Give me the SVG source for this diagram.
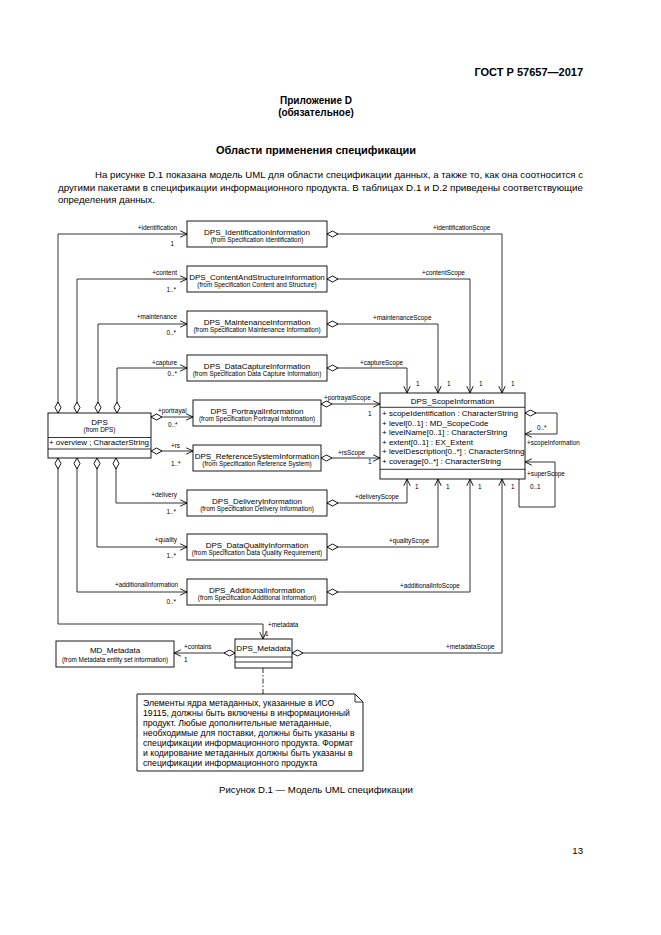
<svg xmlns="http://www.w3.org/2000/svg" width="661" height="935" viewBox="0 0 661 935">
<style>
text{font-family:"Liberation Sans",Arial,sans-serif;fill:#000}
.hd{font-weight:bold}
.p{font-size:9.6px}
.t{font-size:8px;text-anchor:middle}
.s{font-size:6.4px;text-anchor:middle}
.l{font-size:6.4px}
.r{text-anchor:end}
.a{font-size:8px}
.n{font-size:8.7px}
.box{fill:#fff;stroke:#000;stroke-width:0.9}
.ln{fill:none;stroke:#000;stroke-width:0.8}
.cd{marker-start:url(#dia);marker-end:url(#arr)}
</style>
<defs>
<marker id="arr" viewBox="0 0 10 10" refX="9.5" refY="5" markerWidth="8" markerHeight="8" markerUnits="userSpaceOnUse" orient="auto"><path d="M1,1 L9.5,5 L1,9" fill="none" stroke="#000" stroke-width="1.1"/></marker>
<marker id="dia" viewBox="0 0 12 8" refX="0.5" refY="4" markerWidth="12" markerHeight="8" markerUnits="userSpaceOnUse" orient="auto"><path d="M0.5,4 L6,1 L11.5,4 L6,7 Z" fill="#fff" stroke="#000" stroke-width="0.9"/></marker>
</defs>
<rect width="661" height="935" fill="#fff"/>

<g id="page-text">
<text x="583" y="76" class="hd r" font-size="11">ГОСТ Р 57657—2017</text>
<text x="316" y="104" class="hd" font-size="10" text-anchor="middle">Приложение D</text>
<text x="316" y="116" class="hd" font-size="10" text-anchor="middle">(обязательное)</text>
<text x="316" y="154" class="hd" font-size="11" text-anchor="middle">Области применения спецификации</text>
<text x="95" y="178" class="p" textLength="488" lengthAdjust="spacing">На рисунке D.1 показана модель UML для области спецификации данных, а также то, как она соотносится с</text>
<text x="58" y="191" class="p" textLength="525" lengthAdjust="spacingAndGlyphs">другими пакетами в спецификации информационного продукта. В таблицах D.1 и D.2 приведены соответствующие</text>
<text x="58" y="203" class="p">определения данных.</text>
<text x="316" y="793" class="p" text-anchor="middle">Рисунок D.1 — Модель UML спецификации</text>
<text x="583" y="854" class="p r" font-size="10">13</text>
</g>

<g id="connectors">
<path class="ln cd" d="M58,413 V234 H187"/>
<path class="ln cd" d="M77,413 V279 H187"/>
<path class="ln cd" d="M98,413 V324 H187"/>
<path class="ln cd" d="M117,413 V368 H187"/>
<path class="ln cd" d="M151,417 H193"/>
<path class="ln cd" d="M151,451 H193"/>
<path class="ln cd" d="M116,458 V503 H187"/>
<path class="ln cd" d="M97,458 V547 H187"/>
<path class="ln cd" d="M77,458 V592 H187"/>
<path class="ln cd" d="M58,458 V624 H263 V639"/>
<path class="ln cd" d="M327,234 H502 V393"/>
<path class="ln cd" d="M327,279 H470 V393"/>
<path class="ln cd" d="M327,324 H438 V393"/>
<path class="ln cd" d="M327,368 H407 V393"/>
<path class="ln cd" d="M321,404 H380"/>
<path class="ln cd" d="M321,458 H380"/>
<path class="ln cd" d="M327,503 H407 V479"/>
<path class="ln cd" d="M327,547 H438 V479"/>
<path class="ln cd" d="M327,592 H470 V479"/>
<path class="ln cd" d="M292,653 H502 V479"/>
<path class="ln cd" d="M235,653 H174"/>
<path class="ln cd" d="M525,413 H557 V434 H525"/>
<path class="ln" marker-end="url(#arr)" d="M519,479 V507 H555 V462 H525"/>
<path class="ln" stroke-dasharray="5,2,1.5,2" d="M263,668 V694"/>

<text class="l r" x="177" y="230">+identification</text>
<text class="l r" x="174" y="246">1</text>
<text class="l r" x="177" y="275">+content</text>
<text class="l r" x="176" y="292">1..*</text>
<text class="l r" x="177" y="319">+maintenance</text>
<text class="l r" x="176" y="335">0..*</text>
<text class="l r" x="177" y="365">+capture</text>
<text class="l r" x="177" y="376">0..*</text>
<text class="l" x="158" y="413">+portrayal</text>
<text class="l" x="168" y="427">0..*</text>
<text class="l" x="171" y="448">+rs</text>
<text class="l" x="171" y="466">1..*</text>
<text class="l r" x="177" y="497">+delivery</text>
<text class="l r" x="176" y="514">1..*</text>
<text class="l r" x="177" y="542">+quality</text>
<text class="l r" x="176" y="558">1..*</text>
<text class="l r" x="178" y="587">+additionalInformation</text>
<text class="l r" x="176" y="604">0..*</text>
<text class="l" x="268" y="627">+metadata</text>
<text class="l" x="265" y="636">1</text>
<text class="l" x="433" y="230">+identificationScope</text>
<text class="l" x="422" y="275">+contentScope</text>
<text class="l" x="373" y="320">+maintenanceScope</text>
<text class="l" x="360" y="365">+captureScope</text>
<text class="l" x="324" y="400">+portrayalScope</text>
<text class="l" x="368" y="416">1</text>
<text class="l" x="338" y="455">+rsScope</text>
<text class="l" x="368" y="464">1</text>
<text class="l" x="355" y="499">+deliveryScope</text>
<text class="l" x="389" y="543">+qualityScope</text>
<text class="l" x="400" y="588">+additionalInfoScope</text>
<text class="l" x="446" y="649">+metadataScope</text>
<text class="l" x="184" y="649">+contains</text>
<text class="l" x="184" y="662">1</text>
<text class="l" x="416" y="386">1</text>
<text class="l" x="447" y="386">1</text>
<text class="l" x="479" y="386">1</text>
<text class="l" x="511" y="386">1</text>
<text class="l" x="415" y="489">1</text>
<text class="l" x="446" y="489">1</text>
<text class="l" x="478" y="489">1</text>
<text class="l" x="511" y="489">1</text>
<text class="l" x="537" y="430">0..*</text>
<text class="l" x="527" y="445">+scopeInformation</text>
<text class="l" x="527" y="476">+superScope</text>
<text class="l" x="530" y="489">0..1</text>
</g>

<g id="DPS">
<rect class="box" x="48" y="413" width="103" height="45"/>
<line class="ln" x1="48" y1="437.5" x2="151" y2="437.5"/>
<line class="ln" x1="48" y1="449" x2="151" y2="449"/>
<text class="t" x="99.5" y="424.5">DPS</text>
<text class="s" x="99.5" y="431.5" font-size="6">(from DPS)</text>
<text class="a" x="49" y="445.2" textLength="100" lengthAdjust="spacingAndGlyphs">+ overview ; CharacterString</text>
</g>

<g id="DPS_IdentificationInformation">
<rect class="box" x="187" y="221" width="140" height="26"/>
<text class="t" x="257" y="234.5">DPS_IdentificationInformation</text>
<text class="s" x="257" y="241.8">(from Specification Identification)</text>
</g>
<g id="DPS_ContentAndStructureInformation">
<rect class="box" x="187" y="266" width="140" height="26"/>
<text class="t" x="257" y="279.5">DPS_ContentAndStructureInformation</text>
<text class="s" x="257" y="286.8">(from Specification Content and Structure)</text>
</g>
<g id="DPS_MaintenanceInformation">
<rect class="box" x="187" y="311" width="140" height="26"/>
<text class="t" x="257" y="324.5">DPS_MaintenanceInformation</text>
<text class="s" x="257" y="331.8">(from Specification Maintenance Information)</text>
</g>
<g id="DPS_DataCaptureInformation">
<rect class="box" x="187" y="355" width="140" height="26"/>
<text class="t" x="257" y="368.5">DPS_DataCaptureInformation</text>
<text class="s" x="257" y="375.8">(from Specification Data Capture Information)</text>
</g>
<g id="DPS_PortrayalInformation">
<rect class="box" x="193" y="400" width="128" height="26"/>
<text class="t" x="257" y="413.5">DPS_PortrayalInformation</text>
<text class="s" x="257" y="420.8">(from Specification Portrayal Information)</text>
</g>
<g id="DPS_ReferenceSystemInformation">
<rect class="box" x="193" y="445" width="128" height="26"/>
<text class="t" x="257" y="458.5">DPS_ReferenceSystemInformation</text>
<text class="s" x="257" y="465.8">(from Specification Reference System)</text>
</g>
<g id="DPS_DeliveryInformation">
<rect class="box" x="187" y="490" width="140" height="26"/>
<text class="t" x="257" y="503.5">DPS_DeliveryInformation</text>
<text class="s" x="257" y="510.8">(from Specification Delivery Information)</text>
</g>
<g id="DPS_DataQualityInformation">
<rect class="box" x="187" y="534" width="140" height="26"/>
<text class="t" x="257" y="547.5">DPS_DataQualityInformation</text>
<text class="s" x="257" y="554.8">(from Specification Data Quality Requirement)</text>
</g>
<g id="DPS_AdditionalInformation">
<rect class="box" x="187" y="579" width="140" height="26"/>
<text class="t" x="257" y="592.5">DPS_AdditionalInformation</text>
<text class="s" x="257" y="599.8">(from Specification Additional Information)</text>
</g>

<g id="DPS_ScopeInformation">
<rect class="box" x="380" y="393" width="145" height="86"/>
<line class="ln" x1="380" y1="407.3" x2="525" y2="407.3"/>
<line class="ln" x1="380" y1="469.3" x2="525" y2="469.3"/>
<text class="t" x="452.5" y="403.5" font-size="8.2">DPS_ScopeInformation</text>
<text class="a" x="382" y="416.3">+ scopeIdentification : CharacterString</text>
<text class="a" x="382" y="425.8">+ level[0..1] : MD_ScopeCode</text>
<text class="a" x="382" y="435.3">+ levelName[0..1] : CharacterString</text>
<text class="a" x="382" y="444.8">+ extent[0..1] : EX_Extent</text>
<text class="a" x="382" y="454.3">+ levelDescription[0..*] : CharacterString</text>
<text class="a" x="382" y="463.8">+ coverage[0..*] : CharacterString</text>
</g>

<g id="DPS_Metadata">
<rect class="box" x="235" y="639" width="57" height="29"/>
<line class="ln" x1="235" y1="657" x2="292" y2="657"/>
<line class="ln" x1="235" y1="662" x2="292" y2="662"/>
<text class="t" x="263.5" y="651">DPS_Metadata</text>
</g>

<g id="MD_Metadata">
<rect class="box" x="56" y="641" width="118" height="26"/>
<text class="t" x="115" y="652.5">MD_Metadata</text>
<text class="s" x="115" y="662">(from Metadata entity set information)</text>
</g>

<g id="note">
<path class="box" d="M137,694 H355 L363,702 V771 H137 Z"/>
<path class="ln" d="M355,694 V702 H363"/>
<text class="n" x="143" y="706">Элементы ядра метаданных, указанные в ИСО</text>
<text class="n" x="143" y="716">19115, должны быть включены в информационный</text>
<text class="n" x="143" y="726">продукт. Любые дополнительные метаданные,</text>
<text class="n" x="143" y="736">необходимые для поставки, должны быть указаны в</text>
<text class="n" x="143" y="746">спецификации информационного продукта. Формат</text>
<text class="n" x="143" y="756">и кодирование метаданных должны быть указаны в</text>
<text class="n" x="143" y="766">спецификации информационного продукта</text>
</g>
</svg>
